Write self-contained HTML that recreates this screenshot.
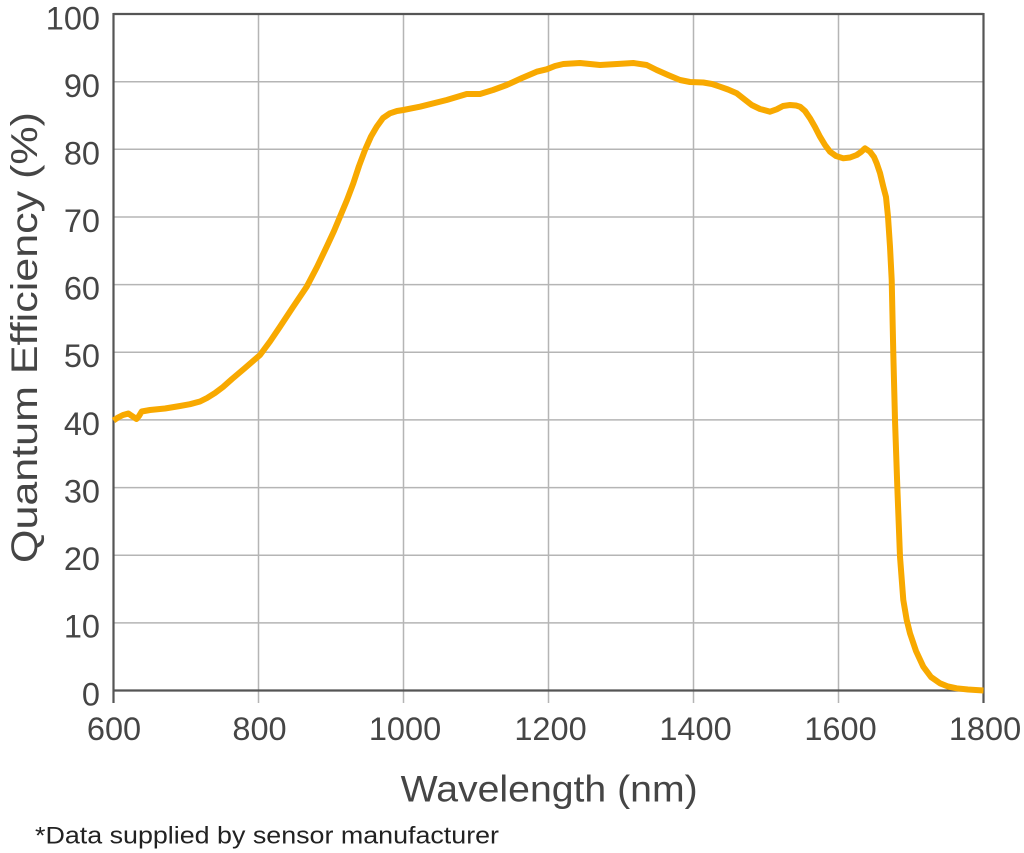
<!DOCTYPE html>
<html>
<head>
<meta charset="utf-8">
<style>
  html, body { margin: 0; padding: 0; background: #ffffff; }
  svg { display: block; }
  text { font-family: "Liberation Sans", Arial, sans-serif; }
</style>
</head>
<body>
<svg width="1024" height="853" viewBox="0 0 1024 853" xmlns="http://www.w3.org/2000/svg">
  <rect x="0" y="0" width="1024" height="853" fill="#ffffff"/>
  <!-- horizontal gridlines -->
  <g stroke="#b5b5b5" stroke-width="1.5" fill="none">
    <line x1="113.5" y1="81.7" x2="983.5" y2="81.7"/>
    <line x1="113.5" y1="149.3" x2="983.5" y2="149.3"/>
    <line x1="113.5" y1="217" x2="983.5" y2="217"/>
    <line x1="113.5" y1="284.6" x2="983.5" y2="284.6"/>
    <line x1="113.5" y1="352.3" x2="983.5" y2="352.3"/>
    <line x1="113.5" y1="419.9" x2="983.5" y2="419.9"/>
    <line x1="113.5" y1="487.6" x2="983.5" y2="487.6"/>
    <line x1="113.5" y1="555.2" x2="983.5" y2="555.2"/>
    <line x1="113.5" y1="622.9" x2="983.5" y2="622.9"/>
    <!-- vertical gridlines with tick extension -->
    <line x1="258.5" y1="14" x2="258.5" y2="703"/>
    <line x1="403.5" y1="14" x2="403.5" y2="703"/>
    <line x1="548.5" y1="14" x2="548.5" y2="703"/>
    <line x1="693.5" y1="14" x2="693.5" y2="703"/>
    <line x1="838.5" y1="14" x2="838.5" y2="703"/>
  </g>
  <!-- frame -->
  <g stroke="#555555" stroke-width="2.2" fill="none">
    <line x1="113.5" y1="14" x2="983.5" y2="14"/>
    <line x1="113.5" y1="690.5" x2="983.5" y2="690.5"/>
    <line x1="113.5" y1="13" x2="113.5" y2="703"/>
    <line x1="983.5" y1="13" x2="983.5" y2="703"/>
  </g>
  <!-- curve -->
  <polyline fill="none" stroke="#F8A900" stroke-width="6" stroke-linejoin="round" stroke-linecap="butt"
    points="113.5,420.5 118,417.5 123,415 128.3,413.5 132,416 136.5,419 139,416 141.7,411.5 150,410 165,408.5 180,406 190,404.2 200,401.5 207,398 215,393 223,387 232,379 245,368 260,355 270,341.5 280,326.7 293,307 306.7,286.7 317,267 326.7,246.7 334,231 340,216.7 347,200 353.3,183.3 359,166 365,150 371,136.5 376.7,126.7 383,118 390,113.3 397,111 403.3,110 420,106.7 446.7,100 466.7,94 480,94 493,90 506.7,85 522,78 536.7,71.7 546.7,69.3 555,66 563.3,64 580,63 600,65 617,64 633.3,63 646.7,65 656.7,70 668,75 680,80 690,82 703.3,82.5 712,84 720,86.7 728,89.5 736.7,93.3 744,99 751.7,105 760,109 770,111.7 776.7,109.3 783,106 790,105 796,105.5 800,106.7 805,111 810,118.3 815,127 820,136.7 825,145 830,151.7 836,156 843.3,158.3 850,157.5 856.7,155 861,152 865,148.3 870,151.7 874,157 876.7,163.3 880,173 883.3,186.7 886,197 888,216.7 890,246.7 891.7,280 893.3,353.3 895,420 897.3,486.7 900,556.7 903.3,600 906.7,620 910,633.3 916,651 923.3,666.7 931,677 940,683.3 948,686.5 956.7,688.3 968,689.5 983.5,690.5"/>
  <!-- y tick labels -->
  <g fill="#454545" font-size="32.5" text-anchor="end">
    <text x="100" y="29.5">100</text>
    <text x="100" y="97">90</text>
    <text x="100" y="164.5">80</text>
    <text x="100" y="232">70</text>
    <text x="100" y="299.5">60</text>
    <text x="100" y="367">50</text>
    <text x="100" y="435">40</text>
    <text x="100" y="502.5">30</text>
    <text x="100" y="570">20</text>
    <text x="100" y="637.5">10</text>
    <text x="100" y="705.5">0</text>
  </g>
  <!-- x tick labels -->
  <g fill="#454545" font-size="32.5" text-anchor="middle">
    <text x="114" y="740">600</text>
    <text x="259.5" y="740">800</text>
    <text x="405" y="740">1000</text>
    <text x="550.5" y="740">1200</text>
    <text x="695.5" y="740">1400</text>
    <text x="840.5" y="740">1600</text>
    <text x="985" y="740">1800</text>
  </g>
  <!-- axis titles -->
  <text x="400.7" y="801.7" font-size="37" fill="#454545" textLength="297" lengthAdjust="spacingAndGlyphs">Wavelength (nm)</text>
  <text transform="translate(37,563) rotate(-90)" x="0" y="0" font-size="37" fill="#454545" textLength="451" lengthAdjust="spacingAndGlyphs">Quantum Efficiency (%)</text>
  <!-- footnote -->
  <text x="35" y="843.3" font-size="24" fill="#222222" textLength="464" lengthAdjust="spacingAndGlyphs">*Data supplied by sensor manufacturer</text>
</svg>
</body>
</html>
